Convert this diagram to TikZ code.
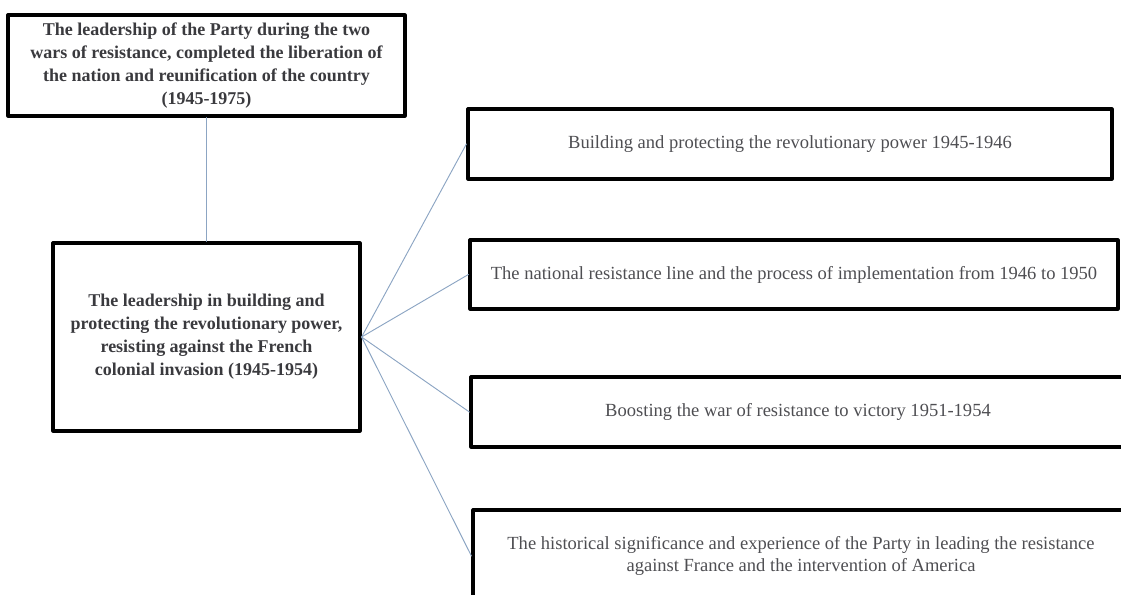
\documentclass[tikz,border=0pt]{standalone}
\usepackage{fontspec}
\setmainfont{Liberation Serif}
\usetikzlibrary{positioning}
\definecolor{fg}{RGB}{0,0,0}
\definecolor{ink}{RGB}{58,58,62}
\definecolor{soft}{RGB}{78,78,82}
\definecolor{wire}{RGB}{140,165,195}
\tikzset{
  every picture/.style={line cap=round, line join=round},
  % Kästen
  box/.style={draw=fg, line width=2.4pt, align=center, inner sep=0pt, text=soft,
    font=\fontsize{13.9}{16.5}\selectfont},
  head/.style={box, text=ink, font=\bfseries\fontsize{13.5}{17.25}\selectfont},
  % Verbindungslinien
  conn/.style={wire, line width=0.7pt},
}

\begin{document}
\begin{tikzpicture}[x=0.75pt, y=-0.75pt]
  \useasboundingbox (0,0) rectangle (1121,595);
  \clip (0,0) rectangle (1121,595);
  % Oberbegriff und Teilkapitel
  \node[head, minimum width=297.75pt, minimum height=75.75pt] (top) at (206.5,65.5)
    {The leadership of the Party during the two\\
     wars of resistance, completed the liberation of\\
     the nation and reunification of the country\\
     (1945-1975)};
  \node[head, minimum width=230.25pt, minimum height=141pt] (mid) at (206.5,337)
    {The leadership in building and\\
     protecting the revolutionary power,\\
     resisting against the French\\
     colonial invasion (1945-1954)};
  % Abschnitte rechts
  \node[box, minimum width=483pt, minimum height=52.5pt] (b1) at (790,144)
    {Building and protecting the revolutionary power 1945-1946};
  \node[box, minimum width=486pt, minimum height=51.75pt] (b2) at (794,274.5)
    {The national resistance line and the process of implementation from 1946 to 1950};
  \node[box, minimum width=490.5pt, minimum height=52.5pt] (b3) at (798,412)
    {Boosting the war of resistance to victory 1951-1954};
  \node[box, minimum width=492pt, minimum height=69pt] (b4) at (801,556)
    {The historical significance and experience of the Party in leading the resistance\\
     against France and the intervention of America};
  % Verbindungen
  \draw[conn] (top) -- (mid);
  \foreach \b in {b1,b2,b3,b4}
    \draw[conn] (mid.east) -- (\b.west);
\end{tikzpicture}
\end{document}
